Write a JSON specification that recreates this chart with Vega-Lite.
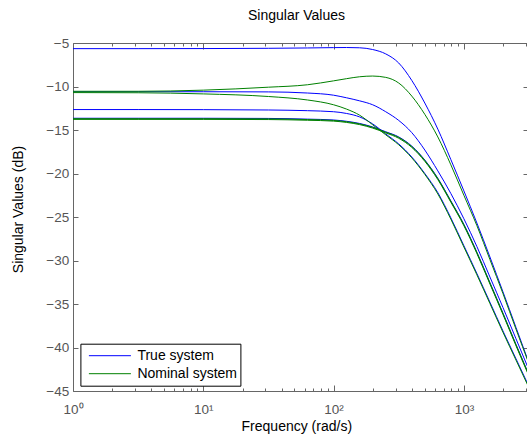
{
"$schema": "https://vega.github.io/schema/vega-lite/v6.json",
"width": 455, "height": 348,
"autosize": {"type": "none"},
"padding": {"left": 73, "top": 43, "right": 0, "bottom": 47},
"background": "white",
"config": {
  "font": "Liberation Sans",
  "view": {"stroke": "#666666", "strokeWidth": 1},
  "axis": {"domain": false, "grid": false, "tickColor": "#666666", "tickWidth": 1, "labelColor": "#555555", "labelFont": "Liberation Sans", "titleFont": "Liberation Sans", "titleColor": "#000000", "titleFontWeight": "normal"}
},
"title": {"text": "Singular Values", "fontSize": 14, "fontWeight": "normal", "font": "Liberation Sans", "color": "#000000", "anchor": "middle", "frame": "group", "baseline": "alphabetic", "offset": 2, "dx": -4},
"data": {"values": [
{"f":1,"db":-5.65,"s":"True system","c":"B1"},{"f":3.162,"db":-5.65,"s":"True system","c":"B1"},{"f":10,"db":-5.64,"s":"True system","c":"B1"},{"f":31.62,"db":-5.61,"s":"True system","c":"B1"},{"f":63.1,"db":-5.57,"s":"True system","c":"B1"},{"f":100,"db":-5.53,"s":"True system","c":"B1"},{"f":125.9,"db":-5.52,"s":"True system","c":"B1"},{"f":158.5,"db":-5.55,"s":"True system","c":"B1"},{"f":199.5,"db":-5.75,"s":"True system","c":"B1"},{"f":251.2,"db":-6.25,"s":"True system","c":"B1"},{"f":316.2,"db":-7.3,"s":"True system","c":"B1"},{"f":398.1,"db":-9.3,"s":"True system","c":"B1"},{"f":501.2,"db":-11.9,"s":"True system","c":"B1"},{"f":631,"db":-14.9,"s":"True system","c":"B1"},{"f":794.3,"db":-18.4,"s":"True system","c":"B1"},{"f":1000,"db":-22.0,"s":"True system","c":"B1"},{"f":1259,"db":-25.7,"s":"True system","c":"B1"},{"f":1585,"db":-29.6,"s":"True system","c":"B1"},{"f":1995,"db":-33.6,"s":"True system","c":"B1"},{"f":2512,"db":-37.7,"s":"True system","c":"B1"},{"f":3162,"db":-41.8,"s":"True system","c":"B1"},
{"f":1,"db":-10.6,"s":"True system","c":"B2"},{"f":3.162,"db":-10.6,"s":"True system","c":"B2"},{"f":10,"db":-10.6,"s":"True system","c":"B2"},{"f":31.62,"db":-10.62,"s":"True system","c":"B2"},{"f":63.1,"db":-10.75,"s":"True system","c":"B2"},{"f":100,"db":-11.0,"s":"True system","c":"B2"},{"f":125.9,"db":-11.3,"s":"True system","c":"B2"},{"f":158.5,"db":-11.65,"s":"True system","c":"B2"},{"f":199.5,"db":-12.1,"s":"True system","c":"B2"},{"f":251.2,"db":-12.9,"s":"True system","c":"B2"},{"f":316.2,"db":-13.9,"s":"True system","c":"B2"},{"f":398.1,"db":-15.3,"s":"True system","c":"B2"},{"f":501.2,"db":-17.3,"s":"True system","c":"B2"},{"f":631,"db":-19.7,"s":"True system","c":"B2"},{"f":794.3,"db":-22.3,"s":"True system","c":"B2"},{"f":1000,"db":-25.2,"s":"True system","c":"B2"},{"f":1259,"db":-28.4,"s":"True system","c":"B2"},{"f":1585,"db":-31.9,"s":"True system","c":"B2"},{"f":1995,"db":-35.4,"s":"True system","c":"B2"},{"f":2512,"db":-39.0,"s":"True system","c":"B2"},{"f":3162,"db":-42.6,"s":"True system","c":"B2"},
{"f":1,"db":-12.65,"s":"True system","c":"B3"},{"f":3.162,"db":-12.65,"s":"True system","c":"B3"},{"f":10,"db":-12.66,"s":"True system","c":"B3"},{"f":31.62,"db":-12.7,"s":"True system","c":"B3"},{"f":63.1,"db":-12.78,"s":"True system","c":"B3"},{"f":100,"db":-12.9,"s":"True system","c":"B3"},{"f":125.9,"db":-13.1,"s":"True system","c":"B3"},{"f":158.5,"db":-13.5,"s":"True system","c":"B3"},{"f":199.5,"db":-14.3,"s":"True system","c":"B3"},{"f":251.2,"db":-15.45,"s":"True system","c":"B3"},{"f":316.2,"db":-16.6,"s":"True system","c":"B3"},{"f":398.1,"db":-18.1,"s":"True system","c":"B3"},{"f":501.2,"db":-20.0,"s":"True system","c":"B3"},{"f":631,"db":-22.2,"s":"True system","c":"B3"},{"f":794.3,"db":-25.1,"s":"True system","c":"B3"},{"f":1000,"db":-28.3,"s":"True system","c":"B3"},{"f":1259,"db":-31.5,"s":"True system","c":"B3"},{"f":1585,"db":-34.8,"s":"True system","c":"B3"},{"f":1995,"db":-38.1,"s":"True system","c":"B3"},{"f":2512,"db":-41.3,"s":"True system","c":"B3"},{"f":3162,"db":-44.5,"s":"True system","c":"B3"},
{"f":1,"db":-13.65,"s":"True system","c":"B4"},{"f":3.162,"db":-13.65,"s":"True system","c":"B4"},{"f":10,"db":-13.65,"s":"True system","c":"B4"},{"f":31.62,"db":-13.67,"s":"True system","c":"B4"},{"f":63.1,"db":-13.75,"s":"True system","c":"B4"},{"f":100,"db":-13.85,"s":"True system","c":"B4"},{"f":125.9,"db":-14.0,"s":"True system","c":"B4"},{"f":158.5,"db":-14.25,"s":"True system","c":"B4"},{"f":199.5,"db":-14.65,"s":"True system","c":"B4"},{"f":251.2,"db":-15.2,"s":"True system","c":"B4"},{"f":316.2,"db":-15.8,"s":"True system","c":"B4"},{"f":398.1,"db":-16.85,"s":"True system","c":"B4"},{"f":501.2,"db":-18.45,"s":"True system","c":"B4"},{"f":631,"db":-20.55,"s":"True system","c":"B4"},{"f":794.3,"db":-23.15,"s":"True system","c":"B4"},{"f":1000,"db":-25.85,"s":"True system","c":"B4"},{"f":1259,"db":-29.05,"s":"True system","c":"B4"},{"f":1585,"db":-32.55,"s":"True system","c":"B4"},{"f":1995,"db":-36.05,"s":"True system","c":"B4"},{"f":2512,"db":-39.65,"s":"True system","c":"B4"},{"f":3162,"db":-43.15,"s":"True system","c":"B4"},
{"f":1,"db":-10.55,"s":"Nominal system","c":"G1"},{"f":3.162,"db":-10.55,"s":"Nominal system","c":"G1"},{"f":10,"db":-10.42,"s":"Nominal system","c":"G1"},{"f":31.62,"db":-10.08,"s":"Nominal system","c":"G1"},{"f":63.1,"db":-9.8,"s":"Nominal system","c":"G1"},{"f":100,"db":-9.35,"s":"Nominal system","c":"G1"},{"f":125.9,"db":-9.1,"s":"Nominal system","c":"G1"},{"f":158.5,"db":-8.88,"s":"Nominal system","c":"G1"},{"f":199.5,"db":-8.8,"s":"Nominal system","c":"G1"},{"f":251.2,"db":-8.95,"s":"Nominal system","c":"G1"},{"f":316.2,"db":-9.6,"s":"Nominal system","c":"G1"},{"f":398.1,"db":-11.1,"s":"Nominal system","c":"G1"},{"f":501.2,"db":-13.2,"s":"Nominal system","c":"G1"},{"f":631,"db":-15.8,"s":"Nominal system","c":"G1"},{"f":794.3,"db":-19.0,"s":"Nominal system","c":"G1"},{"f":1000,"db":-22.5,"s":"Nominal system","c":"G1"},{"f":1259,"db":-26.0,"s":"Nominal system","c":"G1"},{"f":1585,"db":-29.9,"s":"Nominal system","c":"G1"},{"f":1995,"db":-33.8,"s":"Nominal system","c":"G1"},{"f":2512,"db":-37.9,"s":"Nominal system","c":"G1"},{"f":3162,"db":-41.9,"s":"Nominal system","c":"G1"},
{"f":1,"db":-10.7,"s":"Nominal system","c":"G2"},{"f":3.162,"db":-10.72,"s":"Nominal system","c":"G2"},{"f":10,"db":-10.85,"s":"Nominal system","c":"G2"},{"f":31.62,"db":-11.15,"s":"Nominal system","c":"G2"},{"f":63.1,"db":-11.55,"s":"Nominal system","c":"G2"},{"f":100,"db":-12.1,"s":"Nominal system","c":"G2"},{"f":125.9,"db":-12.6,"s":"Nominal system","c":"G2"},{"f":158.5,"db":-13.3,"s":"Nominal system","c":"G2"},{"f":199.5,"db":-14.4,"s":"Nominal system","c":"G2"},{"f":251.2,"db":-15.55,"s":"Nominal system","c":"G2"},{"f":316.2,"db":-16.7,"s":"Nominal system","c":"G2"},{"f":398.1,"db":-18.2,"s":"Nominal system","c":"G2"},{"f":501.2,"db":-20.1,"s":"Nominal system","c":"G2"},{"f":631,"db":-22.35,"s":"Nominal system","c":"G2"},{"f":794.3,"db":-25.25,"s":"Nominal system","c":"G2"},{"f":1000,"db":-28.45,"s":"Nominal system","c":"G2"},{"f":1259,"db":-31.65,"s":"Nominal system","c":"G2"},{"f":1585,"db":-34.95,"s":"Nominal system","c":"G2"},{"f":1995,"db":-38.25,"s":"Nominal system","c":"G2"},{"f":2512,"db":-41.45,"s":"Nominal system","c":"G2"},{"f":3162,"db":-44.65,"s":"Nominal system","c":"G2"},
{"f":1,"db":-13.7,"s":"Nominal system","c":"G3"},{"f":3.162,"db":-13.7,"s":"Nominal system","c":"G3"},{"f":10,"db":-13.7,"s":"Nominal system","c":"G3"},{"f":31.62,"db":-13.72,"s":"Nominal system","c":"G3"},{"f":63.1,"db":-13.8,"s":"Nominal system","c":"G3"},{"f":100,"db":-13.9,"s":"Nominal system","c":"G3"},{"f":125.9,"db":-14.05,"s":"Nominal system","c":"G3"},{"f":158.5,"db":-14.3,"s":"Nominal system","c":"G3"},{"f":199.5,"db":-14.7,"s":"Nominal system","c":"G3"},{"f":251.2,"db":-15.25,"s":"Nominal system","c":"G3"},{"f":316.2,"db":-15.85,"s":"Nominal system","c":"G3"},{"f":398.1,"db":-16.9,"s":"Nominal system","c":"G3"},{"f":501.2,"db":-18.5,"s":"Nominal system","c":"G3"},{"f":631,"db":-20.6,"s":"Nominal system","c":"G3"},{"f":794.3,"db":-23.2,"s":"Nominal system","c":"G3"},{"f":1000,"db":-25.9,"s":"Nominal system","c":"G3"},{"f":1259,"db":-29.1,"s":"Nominal system","c":"G3"},{"f":1585,"db":-32.6,"s":"Nominal system","c":"G3"},{"f":1995,"db":-36.1,"s":"Nominal system","c":"G3"},{"f":2512,"db":-39.7,"s":"Nominal system","c":"G3"},{"f":3162,"db":-43.2,"s":"Nominal system","c":"G3"},
{"f":1,"db":-13.78,"s":"Nominal system","c":"G4"},{"f":3.162,"db":-13.78,"s":"Nominal system","c":"G4"},{"f":10,"db":-13.78,"s":"Nominal system","c":"G4"},{"f":31.62,"db":-13.8,"s":"Nominal system","c":"G4"},{"f":63.1,"db":-13.88,"s":"Nominal system","c":"G4"},{"f":100,"db":-13.98,"s":"Nominal system","c":"G4"},{"f":125.9,"db":-14.13,"s":"Nominal system","c":"G4"},{"f":158.5,"db":-14.38,"s":"Nominal system","c":"G4"},{"f":199.5,"db":-14.78,"s":"Nominal system","c":"G4"},{"f":251.2,"db":-15.33,"s":"Nominal system","c":"G4"},{"f":316.2,"db":-15.95,"s":"Nominal system","c":"G4"},{"f":398.1,"db":-17.0,"s":"Nominal system","c":"G4"},{"f":501.2,"db":-18.6,"s":"Nominal system","c":"G4"},{"f":631,"db":-20.7,"s":"Nominal system","c":"G4"},{"f":794.3,"db":-23.3,"s":"Nominal system","c":"G4"},{"f":1000,"db":-26.0,"s":"Nominal system","c":"G4"},{"f":1259,"db":-29.2,"s":"Nominal system","c":"G4"},{"f":1585,"db":-32.7,"s":"Nominal system","c":"G4"},{"f":1995,"db":-36.2,"s":"Nominal system","c":"G4"},{"f":2512,"db":-39.8,"s":"Nominal system","c":"G4"},{"f":3162,"db":-43.3,"s":"Nominal system","c":"G4"}
]},
"layer": [
  {
    "mark": {"type": "line", "strokeWidth": 1, "interpolate": "monotone", "clip": true},
    "encoding": {
      "x": {"field": "f", "type": "quantitative", "scale": {"type": "log", "domain": [1, 3105], "nice": false},
        "axis": {"orient": "bottom", "values": [1, 10, 100, 1000], "tickSize": -6, "labelPadding": 17.6, "labelFontSize": 13.5, "labelFlush": false, "labelOverlap": false,
          "labelExpr": "datum.value == 1 ? '10⁰' : datum.value == 10 ? '10¹' : datum.value == 100 ? '10²' : '10³'",
          "title": "Frequency (rad/s)", "titleFontSize": 14, "titleX": 223.3, "titleY": 39.7, "titleBaseline": "alphabetic"}},
      "y": {"field": "db", "type": "quantitative", "scale": {"domain": [-45, -5], "nice": false, "zero": false},
        "axis": {"orient": "left", "values": [-45, -40, -35, -30, -25, -20, -15, -10, -5], "tickSize": -5, "labelPadding": 9.3, "labelFontSize": 13.5, "labelOverlap": false, "labelBound": false,
          "title": "Singular Values (dB)", "titleFontSize": 14, "titleX": -47.5, "titleY": 166}},
      "color": {"field": "s", "type": "nominal", "scale": {"domain": ["True system", "Nominal system"], "range": ["#0000ff", "#008000"]},
        "legend": {"orient": "none", "legendX": 7.4, "legendY": 300.7, "title": null, "symbolType": "stroke", "symbolSize": 1764, "symbolStrokeWidth": 1, "labelFontSize": 14, "labelColor": "#000000", "labelOffset": 6, "clipHeight": 18, "rowPadding": 0, "padding": 3, "symbolOffset": 5, "strokeColor": "#000000", "fillColor": "#ffffff"}},
      "detail": {"field": "c"}
    }
  },
  {
    "mark": {"type": "line", "opacity": 0},
    "encoding": {
      "x": {"field": "f", "type": "quantitative", "axis": {"orient": "bottom", "values": [2,3,4,5,6,7,8,9,20,30,40,50,60,70,80,90,200,300,400,500,600,700,800,900,2000,3000], "tickSize": -3, "labels": false, "title": null}},
      "y": {"field": "db", "type": "quantitative", "axis": {"orient": "right", "values": [-45, -40, -35, -30, -25, -20, -15, -10, -5], "tickSize": -5, "labels": false, "title": null}},
      "detail": {"field": "c"}
    }
  },
  {
    "mark": {"type": "line", "opacity": 0},
    "encoding": {
      "x": {"field": "f", "type": "quantitative", "axis": {"orient": "top", "values": [1, 10, 100, 1000], "tickSize": -6, "labels": false, "title": null}},
      "y": {"field": "db", "type": "quantitative", "axis": null},
      "detail": {"field": "c"}
    }
  },
  {
    "mark": {"type": "line", "opacity": 0},
    "encoding": {
      "x": {"field": "f", "type": "quantitative", "axis": {"orient": "top", "values": [2,3,4,5,6,7,8,9,20,30,40,50,60,70,80,90,200,300,400,500,600,700,800,900,2000,3000], "tickSize": -3, "labels": false, "title": null}},
      "y": {"field": "db", "type": "quantitative", "axis": null},
      "detail": {"field": "c"}
    }
  }
],
"resolve": {"axis": {"x": "independent", "y": "independent"}}
}
